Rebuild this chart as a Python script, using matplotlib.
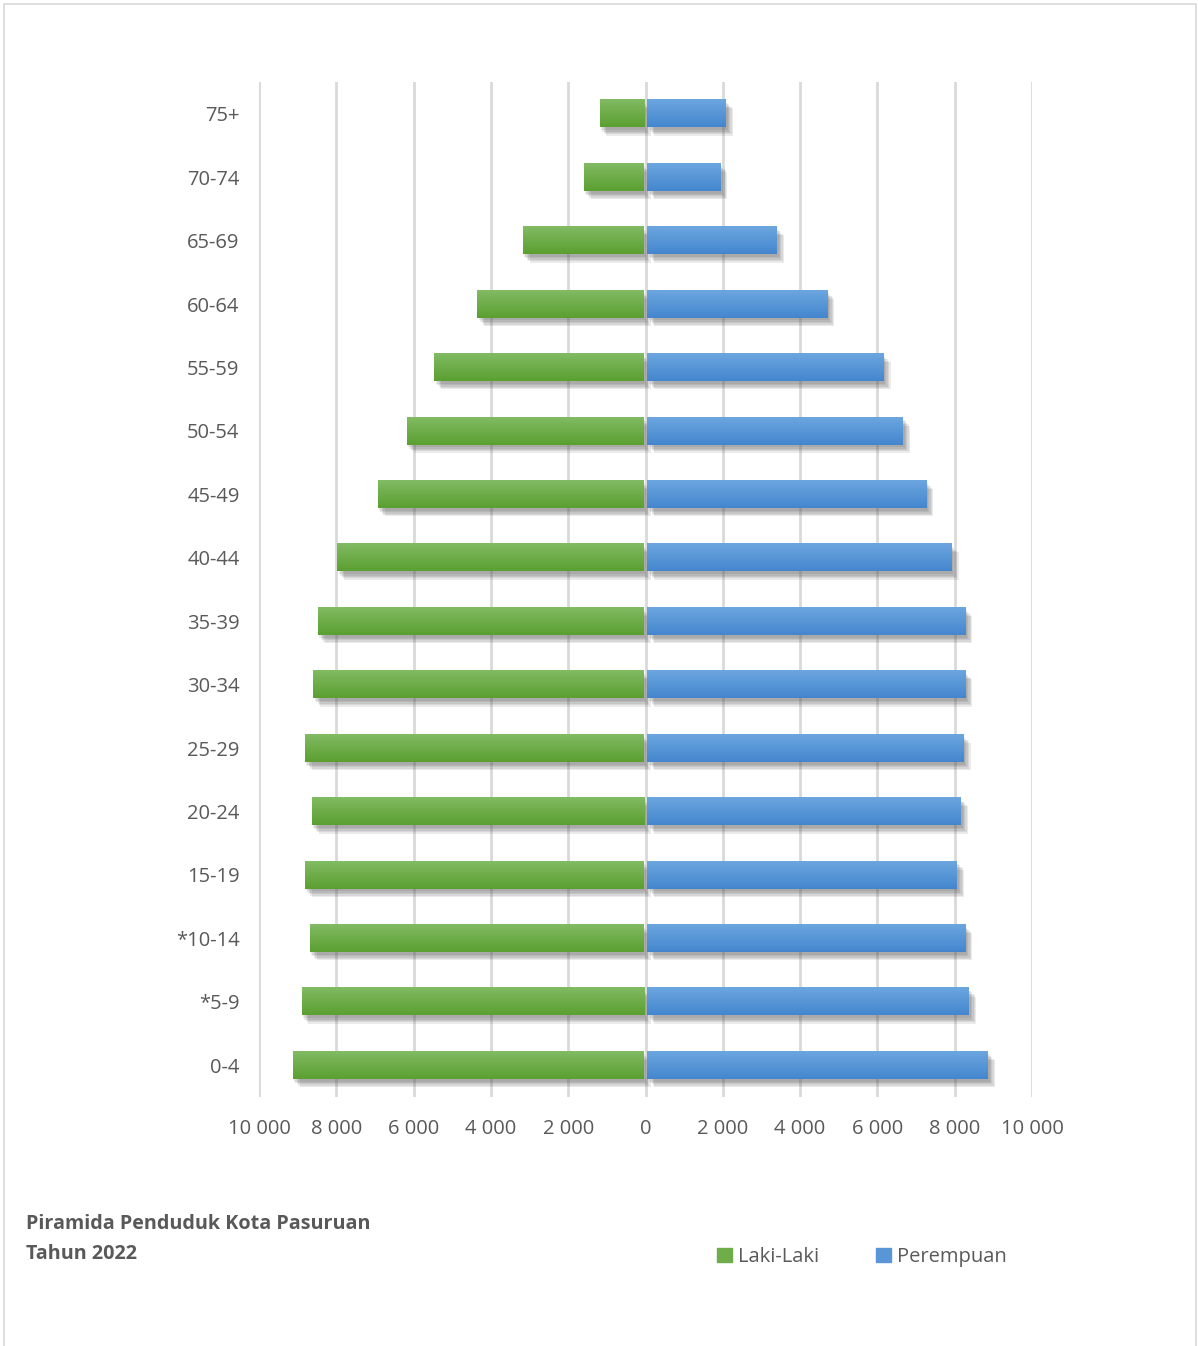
import numpy as np
import matplotlib.pyplot as plt
import matplotlib.patheffects as pe
from matplotlib.colors import LinearSegmentedColormap
from matplotlib.patches import Rectangle
from matplotlib.ticker import FuncFormatter

plt.rcParams['font.family'] = ['Open Sans', 'DejaVu Sans']

age_groups = ['0-4', '*5-9', '*10-14', '15-19', '20-24', '25-29', '30-34', '35-39',
              '40-44', '45-49', '50-54', '55-59', '60-64', '65-69', '70-74', '75+']
laki = [9080, 8850, 8640, 8770, 8590, 8770, 8540, 8430,
        7920, 6880, 6130, 5410, 4300, 3130, 1550, 1140]
perempuan = [8820, 8330, 8230, 8020, 8120, 8180, 8230, 8230,
             7870, 7220, 6620, 6110, 4660, 3360, 1890, 2040]

txt = '#595959'
green_cmap = LinearSegmentedColormap.from_list('g', ['#5b9f31', '#81bb63'])
blue_cmap = LinearSegmentedColormap.from_list('b', ['#4486ce', '#6ca6df'])

fig = plt.figure(figsize=(11.98, 13.46), dpi=100)
fig.patches.append(Rectangle((4 / 1198, -0.01), 1192 / 1198, 1 - 4 / 1346 + 0.01,
                             transform=fig.transFigure, fill=False,
                             edgecolor='#d9d9d9', lw=1.2))
ax = fig.add_axes([259 / 1198, 1 - 1097 / 1346, 773 / 1198, 1015 / 1346])

y = np.arange(len(age_groups))
h = 0.43
grad = np.linspace(0, 1, 50).reshape(-1, 1)
# soft drop shadow: several faint offset copies
shadow = [pe.SimplePatchShadow(offset=(o, -o - 1), shadow_rgbFace='#444444', alpha=0.11)
          for o in (1, 2, 3, 4, 5)] + [pe.Normal()]


def draw_bars(vals, sign, cmap, start):
    bars = ax.barh(y, [sign * v for v in vals], left=sign * start, height=h,
                   color=cmap(0.5), zorder=3, path_effects=shadow)
    for b in bars:
        x0, x1 = sorted([b.get_x(), b.get_x() + b.get_width()])
        ax.imshow(grad, extent=(x0, x1, b.get_y(), b.get_y() + h), origin='lower',
                  aspect='auto', cmap=cmap, zorder=4)


draw_bars(laki, -1, green_cmap, 50)
draw_bars(perempuan, 1, blue_cmap, 50)

ax.set_xlim(-10000, 10000)
ax.set_ylim(-0.5, len(age_groups) - 0.5)
ax.set_xticks(np.arange(-10000, 10001, 2000))
ax.xaxis.set_major_formatter(FuncFormatter(lambda v, p: f'{abs(int(v)):,}'.replace(',', ' ')))
ax.set_yticks(y)
ax.set_yticklabels(age_groups)
ax.grid(axis='x', color='#d9d9d9', lw=2, zorder=0)
ax.set_axisbelow(True)
for s in ax.spines.values():
    s.set_visible(False)
ax.tick_params(axis='x', length=0, pad=16, labelsize=14.5, labelcolor=txt)
ax.tick_params(axis='y', length=0, pad=14, labelsize=14.5, labelcolor=txt)

fig.text(26 / 1198, 1 - 1224 / 1346, 'Piramida Penduduk Kota Pasuruan', fontsize=14.2,
         fontweight='bold', color=txt, va='center')
fig.text(26 / 1198, 1 - 1254 / 1346, 'Tahun 2022', fontsize=14.2,
         fontweight='bold', color=txt, va='center')

handles = [Rectangle((0, 0), 1, 1, color=green_cmap(0.5)),
           Rectangle((0, 0), 1, 1, color=blue_cmap(0.5))]
fig.legend(handles, ['Laki-Laki', 'Perempuan'], loc='center left',
           bbox_to_anchor=(699 / 1198, 1 - 1257 / 1346), ncol=2, frameon=False,
           fontsize=14.5, labelcolor=txt, handlelength=0.75, handleheight=0.75,
           handletextpad=0.3, columnspacing=2.8)

fig.savefig('out.png', dpi=100)
